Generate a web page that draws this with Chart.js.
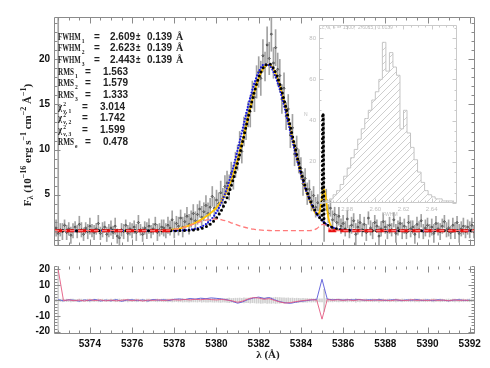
<!DOCTYPE html>
<html>
<head>
<meta charset="utf-8">
<script src="https://cdn.jsdelivr.net/npm/chart.js@4.4.1/dist/chart.umd.min.js"></script>
<style>
body { margin: 0; background: #fff; }
#wrap { position: relative; width: 490px; height: 368px; overflow: hidden; }
canvas { position: absolute; }
</style>
</head>
<body>
<div id="wrap">
<canvas id="top" width="490" height="256" style="left:0;top:0"></canvas>
<canvas id="bot" width="490" height="112" style="left:0;top:256px"></canvas>
<canvas id="ins" width="170" height="205" style="left:296px;top:18px"></canvas>
</div>
<script>
// Espectro observado (muestreo 0.1 A)
const lamStart = 5372.4;
const lamStep = 0.1;
const flux = [
  1.3, 0.7, 1.1, 0.9, 1.6, 0.8, 1.2, 0.5, 1.0, 1.4, 0.9, 1.7, 1.1, 0.6, 1.3, 0.9, 1.5, 1.0, 0.8, 1.2, 1.8, 0.7, 1.1, 1.4, 0.6, 1.0,
  1.3, 0.8, 1.5, 0.4, 0.2, 1.1, 0.9, 1.6, 0.7, 1.2, 1.0, 1.4, 0.8, 1.9, 1.1, 0.6, 1.3, 1.0, 1.5, 0.9, 1.2, 1.7, 0.8, 1.1, 1.4, 1.3,
  1.0, 1.6, 1.3, 2.2, 1.1, 1.8, 1.5, 2.4, 1.4, 2.0, 2.6, 1.7, 2.3, 2.9,
  2.1, 2.8, 3.4, 2.5, 3.1, 3.8, 2.9, 3.6, 4.8, 3.5,
  4.4, 4.0, 5.2, 4.6, 5.9, 6.3, 5.8, 7.4, 6.9, 8.3,
  9.1, 10.5, 9.8, 12.0, 12.6, 13.9, 14.2, 16.1, 15.8, 17.5,
  18.6, 17.9, 20.4, 19.2, 21.6, 20.1, 22.8, 19.6, 21.3, 18.9,
  18.2, 15.6, 16.8, 13.7, 14.5, 11.6, 12.4, 9.5, 10.1, 8.7,
  7.9, 6.2, 6.8, 5.1, 5.6, 4.3, 4.9, 3.6, 4.1, 3.3,
  5.2, 6.8, 4.4, 2.9, 3.5, 2.2, 2.8, 1.9, 2.6, 1.5,
  1.8, 1.2, 2.3, 0.9, 1.6, 2.1, 0.6, 1.4, 1.9, 1.1,
  1.7, 0.8, 2.4, 1.3, 1.0, 1.9, 1.5, 0.4, 1.2, 2.0,
  1.4, 0.9, 1.6, 1.1, 2.2, 0.7, 1.3, 1.8, 1.0, 1.5,
  0.8, 1.9, 1.2, 1.4, 0.6, 1.7, 1.1, 2.1, 0.9, 1.3,
  1.6, 1.0, 1.4, 0.7, 1.8, 1.2, 0.9, 1.5, 2.0, 1.1,
  1.3, 0.8, 1.6, 1.0, 1.9, 0.7, 1.2, 1.5, 0.9, 1.4,
  1.1, 1.6, 0.9
];
const fluxErr = [
  0.9, 24, 0.7, 0.9, 0.6, 0.8, 0.7, 0.9, 0.8, 0.6, 0.7, 0.9, 0.8, 0.7, 0.6, 0.8, 0.9, 0.7, 0.8, 0.6, 0.9, 0.7, 0.8, 0.6, 0.8, 0.7,
  0.8, 0.7, 0.9, 0.8, 0.9, 0.7, 0.8, 0.6, 0.9, 0.7, 0.8, 0.7, 0.9, 0.8, 0.6, 0.8, 0.7, 0.9, 0.8, 0.7, 0.6, 0.8, 0.9, 0.7, 0.8, 0.9,
  0.8, 0.9, 0.8, 1.0, 0.9, 0.8, 1.0, 0.9, 1.1, 0.9, 1.0, 1.1, 0.9, 1.0,
  1.0, 1.1, 0.9, 1.2, 1.0, 1.1, 1.2, 1.0, 1.1, 1.2,
  1.1, 1.2, 1.3, 1.1, 1.2, 1.3, 1.4, 1.2, 1.3, 1.4,
  1.4, 1.5, 1.3, 1.6, 1.5, 1.4, 1.7, 1.5, 1.6, 1.8,
  1.7, 1.9, 1.8, 1.6, 2.0, 1.8, 1.9, 1.7, 2.0, 1.8,
  1.8, 1.6, 1.7, 1.5, 1.6, 1.4, 1.5, 1.3, 1.4, 1.3,
  1.2, 1.3, 1.1, 1.2, 1.0, 1.1, 1.0, 1.1, 0.9, 1.0,
  1.0, 7.0, 1.2, 1.0, 0.9, 1.0, 0.8, 0.9, 1.0, 0.8,
  0.9, 0.8, 1.0, 0.7, 0.9, 0.8, 1.2, 0.8, 0.9, 0.7,
  0.8, 0.9, 0.7, 0.8, 0.9, 0.8, 0.7, 1.1, 0.8, 0.9,
  0.7, 0.8, 0.9, 0.7, 0.8, 1.0, 0.8, 0.7, 0.9, 0.8,
  0.7, 0.8, 0.9, 0.7, 1.0, 0.8, 0.9, 0.7, 0.8, 0.9,
  0.8, 0.7, 0.9, 1.0, 0.8, 0.7, 0.9, 0.8, 0.7, 0.8,
  0.9, 0.7, 0.8, 0.9, 0.7, 1.0, 0.8, 0.9, 0.7, 0.8,
  0.9, 0.8, 0.7
];

// Ajustes
const fitLam = [5372.3, 5373, 5374, 5375, 5376, 5377, 5377.5, 5378, 5378.25, 5378.5, 5378.75, 5379, 5379.25, 5379.5, 5379.75,
  5380, 5380.25, 5380.5, 5380.75, 5381, 5381.25, 5381.5, 5381.75, 5382, 5382.25, 5382.5, 5382.75, 5383, 5383.25, 5383.5, 5383.75,
  5384, 5384.25, 5384.5, 5384.75, 5384.9, 5385, 5385.03, 5385.05, 5385.1, 5385.2, 5385.3, 5385.5, 5385.75, 5386, 5386.5,
  5387, 5388, 5389, 5390, 5391, 5392.25];
const fitBlack = [1.0, 1.0, 1.0, 1.0, 1.0, 1.0, 1.0, 1.0, 1.01, 1.02, 1.05, 1.11, 1.23, 1.44, 1.81,
  2.41, 3.33, 4.63, 6.36, 8.52, 10.98, 13.56, 16.0, 17.97, 19.19, 19.5, 18.8, 17.25, 15.06, 12.53, 9.97,
  7.6, 5.61, 4.06, 2.92, 2.41, 2.14, 14.0, 14.0, 1.91, 1.72, 1.57, 1.34, 1.17, 1.08, 1.02,
  1.0, 1.0, 1.0, 1.0, 1.0, 1.0];
const fitBlue = [1.0, 1.0, 1.0, 1.0, 1.0, 1.0, 1.0, 1.01, 1.02, 1.05, 1.11, 1.21, 1.40, 1.72, 2.25,
  3.05, 4.19, 5.73, 7.67, 9.95, 12.4, 14.87, 17.03, 18.6, 19.43, 19.33, 18.35, 16.64, 14.4, 11.92, 9.47,
  7.25, 5.39, 3.93, 2.86, 2.39, 2.13, 2.08, 2.04, 1.91, 1.72, 1.57, 1.36, 1.18, 1.09, 1.02,
  1.0, 1.0, 1.0, 1.0, 1.0, 1.0];
const fitYellow = [1.0, 1.0, 1.0, 1.0, 1.0, 1.01, 1.04, 1.14, 1.24, 1.41, 1.62, 1.88, 2.2, 2.56, 3.0,
  3.56, 4.35, 5.43, 6.92, 8.84, 11.11, 13.57, 15.96, 17.91, 19.11, 19.42, 18.68, 17.08, 14.84, 12.26, 9.68,
  7.32, 5.35, 3.84, 2.8, 3.22, 4.71, 5.14, 5.38, 5.61, 4.33, 2.44, 1.31, 1.14, 1.07, 1.01,
  1.0, 1.0, 1.0, 1.0, 1.0, 1.0];
const fitComp = [1.0, 1.0, 1.0, 1.0, 1.0, 1.01, 1.04, 1.14, 1.24, 1.39, 1.58, 1.79, 2.0, 2.18, 2.28,
  2.29, 2.21, 2.04, 1.83, 1.62, 1.42, 1.27, 1.16, 1.09, 1.04, 1.02, 1.0, 1.0, 1.0, 1.0, 1.0,
  1.0, 1.0, 1.02, 1.23, 1.53, 1.68, 1.69, 1.69, 1.68, 1.53, 1.32, 1.06, 1.0, 1.0, 1.0,
  1.0, 1.0, 1.0, 1.0, 1.0, 1.0];
// Continuo ajustado en las ventanas sin linea
const contLam = [5372.3, 5377.8, 5381.5, 5385.3, 5392.25];
const contFlux = [1.0, 1.0, null, 1.0, 1.0];

// Residuos (muestreo 0.25 A)
const resStart = 5372.5;
const resStep = 0.25;
const resBlue = [
  0.5, -0.3, 0.4, 0.1, -0.5, 0.3, -0.2, 0.6, -0.4, 0.2,
  -0.3, 0.5, -0.6, 0.2, 0.4, -0.2, 0.3, -0.4, 0.6, 0.1,
  0.4, -0.1, 0.7, 0.9, 0.5, 1.2, 0.8, 1.4, 1.1, 1.6,
  1.3, 0.9, 0.4, -0.6, -1.8, -0.9, 0.6, 1.5, 2.1, 1.2,
  1.8, 0.4, -0.8, -1.5, -1.9, -1.2, -0.6, -0.2, 0.3, 0.6,
  13.5, 0.8, 0.4, 0.6, 0.2, 0.5, 0.3, 0.6, 0.1, 0.4,
  0.2, 0.5, -0.1, 0.3, 0.4, -0.2, 0.3, 0.1, 0.5, -0.1,
  0.3, -0.2, 0.4, 0.1, -0.3, 0.2, 0.4, -0.1, 0.2
];
const resRed = [
  19.5, -0.1, 0.3, -0.2, 0.2, -0.4, 0.4, -0.1, 0.3, -0.3,
  0.2, -0.3, 0.1, 0.4, -0.2, 0.3, -0.4, 0.2, 0.0, 0.3,
  -0.1, 0.3, 0.4, 0.2, 0.6, 0.3, 0.7, 0.4, 0.8, 0.5,
  0.3, 0.6, 0.2, -0.3, -1.2, -0.4, 0.9, 1.8, 1.5, 0.7,
  1.1, 0.0, -1.0, -1.7, -1.4, -0.8, -0.3, 0.1, 0.4, 0.2,
  -12.0, 0.5, 0.1, 0.4, 0.0, 0.3, -0.1, 0.4, 0.2, -0.1,
  0.3, 0.0, 0.2, -0.2, 0.3, 0.1, -0.1, 0.4, 0.0, 0.2,
  -0.1, 0.3, 0.0, 0.2, -0.2, 0.3, 0.0, 0.2, -0.1
];

// Ejes
const xTicks = [5374, 5376, 5378, 5380, 5382, 5384, 5386, 5388, 5390, 5392];
const yTopTicks = [5, 10, 15, 20];
const yBotTicks = [-20, -10, 0, 10, 20];

// Histograma del recuadro
const histBins = [
  2.56125, 2.56375, 2.56625, 2.56875, 2.57125, 2.57375, 2.57625, 2.57875, 2.58125, 2.58375,
  2.58625, 2.58875, 2.59125, 2.59375, 2.59625, 2.59875, 2.60125, 2.60375, 2.60625, 2.60875,
  2.61125, 2.61375, 2.61625, 2.61875, 2.62125, 2.62375, 2.62625, 2.62875, 2.63125, 2.63375,
  2.63625, 2.63875, 2.64125, 2.64375, 2.64625, 2.64875, 2.65125, 2.65375, 2.65625, 2.65875
];
const histCounts = [
  0, 1, 1, 2, 4, 6, 9, 13, 17, 22,
  26, 31, 36, 41, 45, 50, 54, 60, 78, 64,
  73, 66, 62, 36, 45, 34, 27, 21, 15, 10,
  6, 4, 3, 2, 2, 1, 1, 1, 0, 0
];
const insetXTicks = [2.58, 2.60, 2.62, 2.64];
const insetYTicks = [0, 20, 40, 60, 80];

// Textos
const fwhmVals = ['2.609', '2.623', '2.443'];
const fwhmErr = '0.139';
const rmsVals = ['1.563', '1.579', '1.333'];
const chiVals = ['3.014', '1.742', '1.599'];
const rmsE = '0.478';

const xMin = 5372.3, xMax = 5392.25;

Chart.defaults.font.family = '"Liberation Sans", Arial, sans-serif';
Chart.defaults.color = '#111';

const xy = (xs, ys) => ys.map((v, i) => ({ x: xs[i], y: v }));
const lam = flux.map((f, i) => +(lamStart + i * lamStep).toFixed(2));
const resLam = resBlue.map((v, i) => resStart + i * resStep);

// Marco y marcas hacia dentro (estilo IDL)
function frame(o) {
  return {
    id: 'frame',
    afterDatasetsDraw(chart) {
      const { ctx, chartArea: a, scales: { x, y } } = chart;
      ctx.save();
      ctx.strokeStyle = o.color;
      ctx.lineWidth = 1;
      ctx.beginPath();
      const L = Math.round(a.left) + 0.5, R = Math.round(a.right) - 0.5;
      const T = Math.round(a.top) + 0.5, B = Math.round(a.bottom) - 0.5;
      ctx.moveTo(L, B); ctx.lineTo(L, T);
      if (o.noTop) ctx.moveTo(R, T); else ctx.lineTo(R, T);
      ctx.lineTo(R, B); ctx.lineTo(L, B);
      const marks = (scale, major, minor, cb) => {
        const n0 = Math.ceil(scale.min / minor - 1e-6), n1 = Math.floor(scale.max / minor + 1e-6);
        const k = Math.round(major / minor);
        for (let n = n0; n <= n1; n++) {
          cb(Math.round(scale.getPixelForValue(n * minor)) + 0.5, n % k === 0 ? o.big : o.small);
        }
      };
      marks(x, o.xMajor, o.xMinor, (px, len) => {
        ctx.moveTo(px, B); ctx.lineTo(px, B - len);
        ctx.moveTo(px, T); ctx.lineTo(px, T + len);
      });
      marks(y, o.yMajor, o.yMinor, (py, len) => {
        ctx.moveTo(L, py); ctx.lineTo(L + len, py);
        ctx.moveTo(R, py); ctx.lineTo(R - len, py);
      });
      ctx.stroke();
      ctx.restore();
    }
  };
}

// texto estrecho (fuente Hershey)
function txt(ctx, t, x, y, font, sx) {
  ctx.save();
  ctx.font = font;
  ctx.translate(x, y);
  ctx.scale(sx || 1, 1);
  ctx.fillText(t, 0, 0);
  const w = ctx.measureText(t).width * (sx || 1);
  ctx.restore();
  return w;
}

function rich(ctx, pieces, family) {
  let total = 0;
  pieces.forEach(p => { ctx.font = 'bold ' + p[1] + 'px ' + family; total += ctx.measureText(p[0]).width; });
  let x = -total / 2;
  pieces.forEach(p => {
    ctx.font = 'bold ' + p[1] + 'px ' + family;
    ctx.fillText(p[0], x, p[2] || 0);
    x += ctx.measureText(p[0]).width;
  });
}

const LF = 'bold 10px "Liberation Serif"', SF = 'bold 7px "Liberation Serif"', VF = 'bold 10px "Liberation Sans"';

const notes = {
  id: 'notes',
  afterDraw(chart) {
    const ctx = chart.ctx;
    ctx.save();
    ctx.fillStyle = '#222';
    ctx.textBaseline = 'alphabetic';
    const base = i => 39.5 + i * 11.7;
    for (let i = 0; i < 3; i++) {
      const y = base(i);
      const w = txt(ctx, 'FWHM', 58, y, LF, 0.68);
      txt(ctx, String(i + 1), 59 + w, y + 3, SF, 0.8);
      txt(ctx, '=', 94, y, VF);
      txt(ctx, fwhmVals[i], 110, y, VF);
      txt(ctx, '±', 136, y, VF, 0.8);
      txt(ctx, fwhmErr, 147, y, VF);
      txt(ctx, 'Å', 176, y, LF);
    }
    for (let i = 0; i < 3; i++) {
      const y = base(i + 3);
      const w = txt(ctx, 'RMS', 58, y, LF, 0.72);
      txt(ctx, String(i + 1), 59 + w, y + 3, SF, 0.8);
      txt(ctx, '=', 85, y, VF);
      txt(ctx, rmsVals[i], 103, y, VF);
    }
    for (let i = 0; i < 3; i++) {
      const y = base(i + 6);
      const w = txt(ctx, 'χ', 58, y, LF, 0.9);
      txt(ctx, '2', 59 + w, y - 4, SF, 0.8);
      txt(ctx, 'ν, ' + (i + 1), 59 + w, y + 3, SF, 0.8);
      txt(ctx, '=', 82, y, VF);
      txt(ctx, chiVals[i], 100, y, VF);
    }
    {
      const y = base(9);
      const w = txt(ctx, 'RMS', 58, y, LF, 0.72);
      txt(ctx, 'e', 59 + w, y + 3, SF, 0.8);
      txt(ctx, '=', 85, y, VF);
      txt(ctx, rmsE, 103, y, VF);
    }
    // titulo eje y
    ctx.translate(28, 145);
    ctx.rotate(-Math.PI / 2);
    ctx.textBaseline = 'middle';
    rich(ctx, [['F', 11], ['λ', 8, 3], [' (10', 11], ['−16', 8, -4], [' erg s', 11], ['−1', 8, -4],
      [' cm', 11], ['−2', 8, -4], [' Å', 11], ['−1', 8, -4], [')', 11]], '"Liberation Serif"');
    ctx.restore();
  }
};

const xTitle = {
  id: 'xTitle',
  afterDraw(chart) {
    const ctx = chart.ctx;
    ctx.save();
    ctx.fillStyle = '#222';
    ctx.textBaseline = 'middle';
    ctx.translate(268, 99);
    rich(ctx, [['λ (Å)', 11]], '"Liberation Serif"');
    ctx.restore();
  }
};

const line = (data, color, width, extra) => Object.assign({
  type: 'line', data, borderColor: color, borderWidth: width, pointRadius: 0,
  fill: false, cubicInterpolationMode: 'monotone'
}, extra);

const noGrid = { display: false, drawTicks: false };

new Chart(document.getElementById('top'), {
  type: 'line',
  data: {
    datasets: [
      line(xy(fitLam, fitComp), '#ff7a7a', 1.3, { order: 0, borderDash: [5, 3] }),
      line(xy(contLam, contFlux), '#e81010', 3, { order: 1, borderDash: [8, 4], spanGaps: false }),
      line(xy(fitLam, fitBlack), '#000', 3, { order: 2, borderDash: [0, 4.5], borderCapStyle: 'round' }),
      line(xy(fitLam, fitBlue), '#1818e0', 2.2, { order: 3, borderDash: [0, 3], borderCapStyle: 'round' }),
      line(xy(fitLam, fitYellow), '#ffc400', 1.8, { order: 4 }),
      { type: 'line', data: xy(lam, flux), showLine: false, pointRadius: 1.2, pointStyle: 'rectRot',
        pointBorderWidth: 0.6, pointBorderColor: '#333', pointBackgroundColor: '#777', order: 5 },
      { type: 'bar', data: flux.map((f, i) => ({ x: lam[i], y: [f - fluxErr[i], f + fluxErr[i]] })),
        backgroundColor: '#a2a2a2', barThickness: 1, grouped: false, order: 6 }
    ]
  },
  options: {
    responsive: false,
    animation: false,
    layout: { padding: { top: 17, right: 15, left: 0, bottom: 0 } },
    plugins: { legend: { display: false }, tooltip: { enabled: false } },
    scales: {
      x: { type: 'linear', display: false, offset: false, min: xMin, max: xMax, grid: noGrid },
      y: {
        type: 'linear', min: -0.7, max: 24.7,
        afterBuildTicks: s => { s.ticks = yTopTicks.map(v => ({ value: v })); },
        afterFit: s => { s.width = 54; },
        grid: noGrid, border: { display: false },
        ticks: { padding: 4, color: '#111', font: { size: 10, weight: 'bold' }, callback: v => String(v) }
      }
    }
  },
  plugins: [frame({ color: '#8a8a8a', xMajor: 2, xMinor: 0.5, yMajor: 5, yMinor: 1, big: 6, small: 3 }), notes]
});

new Chart(document.getElementById('bot'), {
  type: 'line',
  data: {
    datasets: [
      line(xy(resLam, resRed), 'rgba(228,90,130,0.9)', 1, { order: 0, cubicInterpolationMode: 'default', tension: 0 }),
      line(xy(resLam, resBlue), 'rgba(80,80,215,0.85)', 1, { order: 1, cubicInterpolationMode: 'default', tension: 0 }),
      { type: 'bar', data: fluxErr.map((e, i) => ({ x: lam[i], y: [-e, e] })),
        backgroundColor: '#d0d0d0', barThickness: 1, grouped: false, order: 2 }
    ]
  },
  options: {
    responsive: false,
    animation: false,
    layout: { padding: { top: 0, right: 15, left: 0, bottom: 0 } },
    plugins: { legend: { display: false }, tooltip: { enabled: false } },
    scales: {
      x: {
        type: 'linear', offset: false, min: xMin, max: xMax,
        afterBuildTicks: s => { s.ticks = xTicks.map(v => ({ value: v })); },
        afterFit: s => { s.height = 34; },
        grid: noGrid, border: { display: false },
        ticks: { padding: 4, maxRotation: 0, autoSkip: false, color: '#111', font: { size: 10, weight: 'bold' }, callback: v => String(v) }
      },
      y: {
        type: 'linear', min: -21.5, max: 22,
        afterBuildTicks: s => { s.ticks = yBotTicks.map(v => ({ value: v })); },
        afterFit: s => { s.width = 54; },
        grid: noGrid, border: { display: false },
        ticks: { padding: 4, color: '#111', font: { size: 10, weight: 'bold' }, callback: v => String(v) }
      }
    }
  },
  plugins: [frame({ color: '#8a8a8a', noTop: true, xMajor: 2, xMinor: 0.5, yMajor: 10, yMinor: 2, big: 6, small: 3 }), xTitle]
});

// Recuadro con el histograma
const hatchCanvas = document.createElement('canvas');
hatchCanvas.width = 7; hatchCanvas.height = 7;
const hc = hatchCanvas.getContext('2d');
hc.strokeStyle = '#c8c8c8';
hc.lineWidth = 0.9;
hc.beginPath();
hc.moveTo(0, 7); hc.lineTo(7, 0);
hc.moveTo(-1, 1); hc.lineTo(1, -1);
hc.moveTo(6, 8); hc.lineTo(8, 6);
hc.stroke();
const hatch = document.getElementById('ins').getContext('2d').createPattern(hatchCanvas, 'repeat');

const insetText = {
  id: 'insetText',
  afterDraw(chart) {
    const ctx = chart.ctx;
    ctx.save();
    ctx.fillStyle = '#bdbdbd';
    ctx.textBaseline = 'middle';
    txt(ctx, 'c, a, e =  1500,  2.6015,  0.0139', 26, 10, '5px "Liberation Sans"');
    txt(ctx, 'FWHM', 86, 197, '5px "Liberation Sans"');
    txt(ctx, 'N', 8, 97, '5px "Liberation Sans"');
    ctx.restore();
  }
};

new Chart(document.getElementById('ins'), {
  type: 'line',
  data: {
    datasets: [{
      data: xy(histBins, histCounts), stepped: 'middle', borderColor: '#c4c4c4', borderWidth: 1,
      pointRadius: 0, fill: 'origin', backgroundColor: hatch
    }]
  },
  options: {
    responsive: false,
    animation: false,
    layout: { padding: { top: 7, right: 9, left: 0, bottom: 0 } },
    plugins: { legend: { display: false }, tooltip: { enabled: false } },
    scales: {
      x: {
        type: 'linear', min: 2.56, max: 2.658,
        afterBuildTicks: s => { s.ticks = insetXTicks.map(v => ({ value: v })); },
        afterFit: s => { s.height = 20; },
        grid: noGrid, border: { display: false },
        ticks: { padding: 3, maxRotation: 0, autoSkip: false, color: '#bdbdbd', font: { size: 6 }, callback: v => v.toFixed(2) }
      },
      y: {
        type: 'linear', min: 0, max: 86.4,
        afterBuildTicks: s => { s.ticks = insetYTicks.map(v => ({ value: v })); },
        afterFit: s => { s.width = 23; },
        grid: noGrid, border: { display: false },
        ticks: { padding: 3, color: '#bdbdbd', font: { size: 6 }, callback: v => String(v) }
      }
    }
  },
  plugins: [frame({ color: '#cacaca', xMajor: 0.02, xMinor: 0.005, yMajor: 20, yMinor: 5, big: 4, small: 2 }), insetText]
});
</script>
</body>
</html>
